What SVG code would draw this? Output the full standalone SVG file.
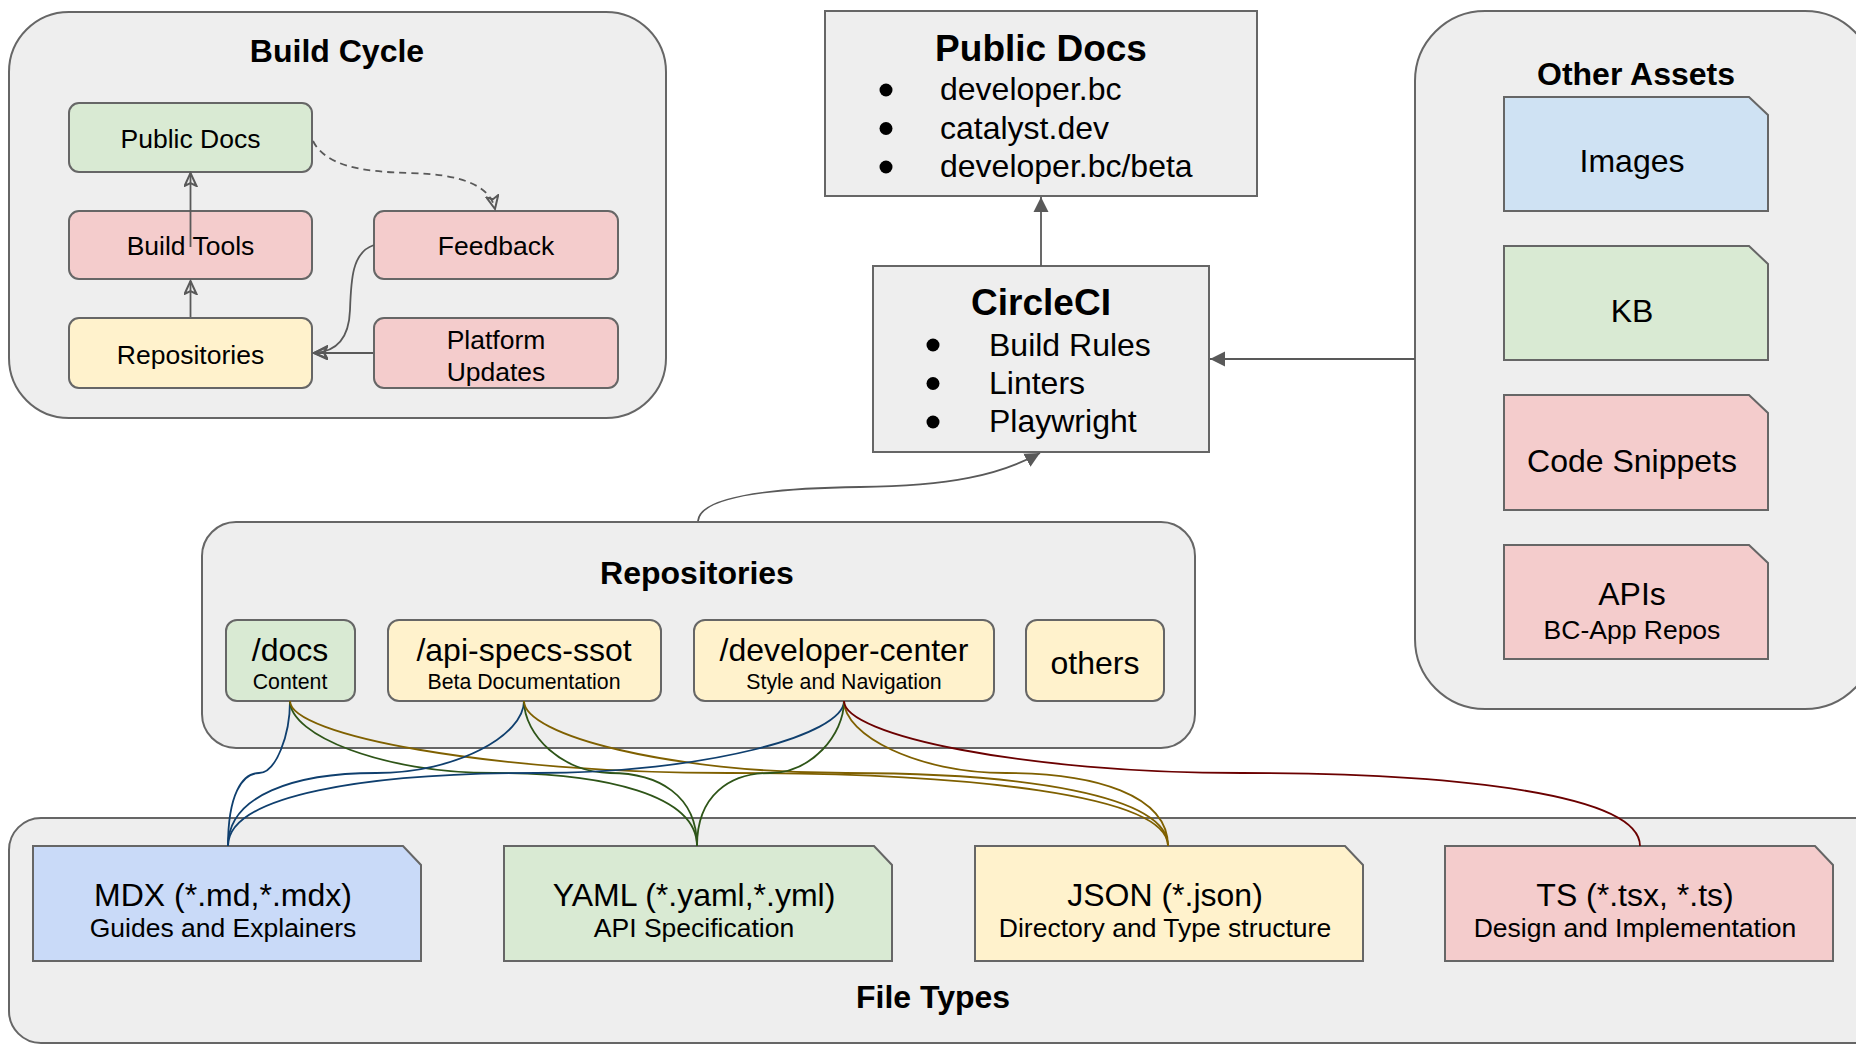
<svg xmlns="http://www.w3.org/2000/svg" width="1856" height="1046" viewBox="0 0 1856 1046">
<defs>
<style>
text{font-family:"Liberation Sans",Arial,sans-serif;fill:#000;text-anchor:middle}
.cont{fill:#eeeeee;stroke:#666666;stroke-width:2}
.box{stroke:#666666;stroke-width:2}
.g{fill:#d9ead3}.r{fill:#f4cccc}.y{fill:#fff2cc}.b{fill:#cfe2f3}.mb{fill:#c9daf8}.gr{fill:#eeeeee}
.t32b{font-size:32px;font-weight:bold}
.t37b{font-size:37px;font-weight:bold}
.t26{font-size:26.5px}
.t31{font-size:32px}
.t32{font-size:32px}
.t21{font-size:21.3px}
.lt{text-anchor:start}
.arr{fill:none;stroke:#595959;stroke-width:1.8}
.e{fill:none;stroke-width:1.8}
.eb{stroke:#0f3f6e}.eg{stroke:#2e5518}.ey{stroke:#7f6000}.er{stroke:#6b0000}
</style>
<marker id="open" markerUnits="userSpaceOnUse" markerWidth="16" markerHeight="14" viewBox="0 0 16 14" refX="14" refY="7" orient="auto">
<path d="M1,1 L14,7 L1,13 L4,7 Z" fill="none" stroke="#595959" stroke-width="2" stroke-linejoin="miter"/>
</marker>
<marker id="fill" markerUnits="userSpaceOnUse" markerWidth="16" markerHeight="16" viewBox="0 0 16 16" refX="15" refY="8" orient="auto">
<path d="M0,0.5 L15,8 L0,15.5 Z" fill="#595959"/>
</marker>
</defs>

<!-- Build Cycle -->
<g id="build-cycle">
<rect class="cont" x="9" y="12" width="657" height="406" rx="60"/>
<text class="t32b" x="337" y="62">Build Cycle</text>
</g>
<g id="bc-public-docs"><rect class="box g" x="69" y="103" width="243" height="69" rx="10"/><text class="t26" x="190.5" y="148">Public Docs</text></g>
<g id="bc-build-tools"><rect class="box r" x="69" y="211" width="243" height="68" rx="10"/><text class="t26" x="190.5" y="255">Build Tools</text></g>
<g id="bc-repositories"><rect class="box y" x="69" y="318" width="243" height="70" rx="10"/><text class="t26" x="190.5" y="364">Repositories</text></g>
<g id="bc-feedback"><rect class="box r" x="374" y="211" width="244" height="68" rx="10"/><text class="t26" x="496" y="255">Feedback</text></g>
<g id="bc-platform-updates"><rect class="box r" x="374" y="318" width="244" height="70" rx="10"/><text class="t26" x="496" y="349">Platform</text><text class="t26" x="496" y="381">Updates</text></g>

<!-- Public Docs -->
<g id="public-docs">
<rect class="box gr" x="825" y="11" width="432" height="185"/>
<text class="t37b" x="1041" y="61">Public Docs</text>
<circle cx="886" cy="90" r="6.5"/><text class="t31 lt" x="940" y="100">developer.bc</text>
<circle cx="886" cy="128.5" r="6.5"/><text class="t31 lt" x="940" y="139">catalyst.dev</text>
<circle cx="886" cy="167" r="6.5"/><text class="t31 lt" x="940" y="177">developer.bc/beta</text>
</g>

<!-- CircleCI -->
<g id="circleci">
<rect class="box gr" x="873" y="266" width="336" height="186"/>
<text class="t37b" x="1041" y="315">CircleCI</text>
<circle cx="933" cy="345" r="6.5"/><text class="t31 lt" x="989" y="356">Build Rules</text>
<circle cx="933" cy="383.5" r="6.5"/><text class="t31 lt" x="989" y="394">Linters</text>
<circle cx="933" cy="422" r="6.5"/><text class="t31 lt" x="989" y="432">Playwright</text>
</g>

<!-- Other Assets -->
<g id="other-assets">
<rect class="cont" x="1415" y="11" width="460" height="698" rx="70"/>
<text class="t32b" x="1636" y="85">Other Assets</text>
</g>
<g id="oa-images"><path class="box b" d="M1504,97 H1749 L1768,115 V211 H1504 Z"/><text class="t31" x="1632" y="172">Images</text></g>
<g id="oa-kb"><path class="box g" d="M1504,246 H1749 L1768,264 V360 H1504 Z"/><text class="t31" x="1632" y="322">KB</text></g>
<g id="oa-code-snippets"><path class="box r" d="M1504,395 H1749 L1768,413 V510 H1504 Z"/><text class="t31" x="1632" y="472">Code Snippets</text></g>
<g id="oa-apis"><path class="box r" d="M1504,545 H1749 L1768,563 V659 H1504 Z"/><text class="t31" x="1632" y="605">APIs</text><text class="t26" x="1632" y="639">BC-App Repos</text></g>

<!-- Repositories -->
<g id="repositories">
<rect class="cont" x="202" y="522" width="993" height="226" rx="34"/>
<text class="t32b" x="697" y="584">Repositories</text>
</g>
<g id="repo-docs"><rect class="box g" x="226" y="620" width="129" height="81" rx="11"/><text class="t32" x="290" y="661">/docs</text><text class="t21" x="290" y="689">Content</text></g>
<g id="repo-api-specs"><rect class="box y" x="388" y="620" width="273" height="81" rx="11"/><text class="t32" x="524" y="661">/api-specs-ssot</text><text class="t21" x="524" y="689">Beta Documentation</text></g>
<g id="repo-developer-center"><rect class="box y" x="694" y="620" width="300" height="81" rx="11"/><text class="t32" x="844" y="661">/developer-center</text><text class="t21" x="844" y="689">Style and Navigation</text></g>
<g id="repo-others"><rect class="box y" x="1026" y="620" width="138" height="81" rx="11"/><text class="t32" x="1095" y="674">others</text></g>

<!-- File Types -->
<g id="file-types">
<rect class="cont" x="9" y="818" width="1880" height="225" rx="32"/>
<text class="t32b" x="933" y="1008">File Types</text>
</g>
<g id="ft-mdx"><path class="box mb" d="M33,846 H403 L421,865 V961 H33 Z"/><text class="t32" x="223" y="906">MDX (*.md,*.mdx)</text><text class="t26" x="223" y="937">Guides and Explainers</text></g>
<g id="ft-yaml"><path class="box g" d="M504,846 H874 L892,865 V961 H504 Z"/><text class="t32" x="694" y="906">YAML (*.yaml,*.yml)</text><text class="t26" x="694" y="937">API Specification</text></g>
<g id="ft-json"><path class="box y" d="M975,846 H1345 L1363,865 V961 H975 Z"/><text class="t32" x="1165" y="906">JSON (*.json)</text><text class="t26" x="1165" y="937">Directory and Type structure</text></g>
<g id="ft-ts"><path class="box r" d="M1445,846 H1815 L1833,865 V961 H1445 Z"/><text class="t32" x="1635" y="906">TS (*.tsx, *.ts)</text><text class="t26" x="1635" y="937">Design and Implementation</text></g>

<!-- Connectors -->
<g id="connectors">
<path class="arr" d="M190.5,317 V281" marker-end="url(#open)"/>
<path class="arr" d="M190.5,247 V173" marker-end="url(#open)"/>
<path class="arr" d="M313,141 C325,165 360,172 410,173 C460,174 490,185 495,209" stroke-dasharray="7,5" marker-end="url(#open)"/>
<path class="arr" d="M374,245 C352,252 351,280 350,310 C349,340 335,352 314,353" marker-end="url(#open)"/>
<path class="arr" d="M373,353 H314" marker-end="url(#open)"/>
<path class="arr" d="M1041,266 V197" marker-end="url(#fill)"/>
<path class="arr" d="M1415,359 H1210" marker-end="url(#fill)"/>
<path class="arr" d="M698,521 C700,495 780,488 860,487 C950,486 1000,475 1040,453" marker-end="url(#fill)"/>

<path class="e eb" d="M290,701 C290,735 276,773 259,773 C242,773 228,795 228,846"/>
<path class="e eg" d="M290,701 C290,735 382,773 494,773 C605,773 697,795 697,846"/>
<path class="e ey" d="M290,701 C290,735 488,773 729,773 C970,773 1168,795 1168,846"/>
<path class="e eb" d="M524,701 C524,735 457,773 376,773 C295,773 228,795 228,846"/>
<path class="e eg" d="M524,701 C524,735 563,773 610,773 C658,773 697,795 697,846"/>
<path class="e ey" d="M524,701 C524,735 669,773 846,773 C1023,773 1168,795 1168,846"/>
<path class="e eb" d="M844,701 C844,735 705,773 536,773 C367,773 228,795 228,846"/>
<path class="e eg" d="M844,701 C844,735 811,773 770,773 C730,773 697,795 697,846"/>
<path class="e ey" d="M844,701 C844,735 917,773 1006,773 C1095,773 1168,795 1168,846"/>
<path class="e er" d="M844,701 C844,735 1023,773 1242,773 C1461,773 1640,795 1640,846"/>
</g>
</svg>
